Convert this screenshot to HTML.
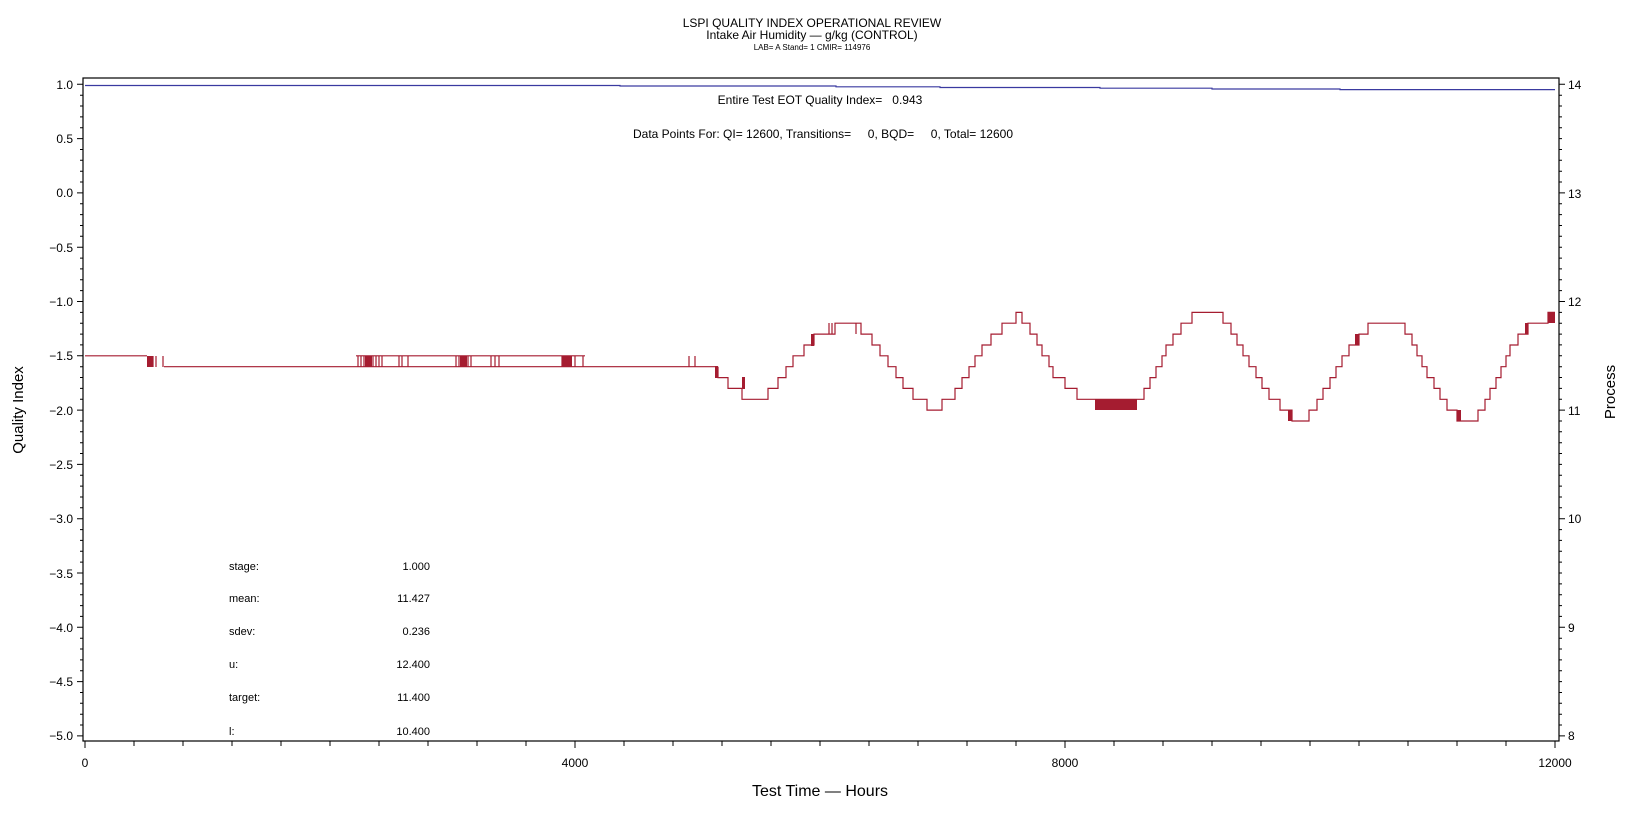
<!DOCTYPE html>
<html><head><meta charset="utf-8"><style>
html,body{margin:0;padding:0;background:#fff;}
svg{display:block;font-family:"Liberation Sans",sans-serif;}
</style></head><body>
<svg width="1632" height="819" viewBox="0 0 1632 819" xmlns="http://www.w3.org/2000/svg">
<rect width="1632" height="819" fill="#fff"/>
<text x="812" y="27" font-size="12" text-anchor="middle">LSPI QUALITY INDEX OPERATIONAL REVIEW</text>
<text x="812" y="39" font-size="12" text-anchor="middle">Intake Air Humidity — g/kg (CONTROL)</text>
<text x="812" y="50" font-size="8" text-anchor="middle">LAB= A Stand= 1 CMIR= 114976</text>
<text x="820" y="104" font-size="12" text-anchor="middle" xml:space="preserve">Entire Test EOT Quality Index=   0.943</text>
<text x="823" y="138" font-size="12" text-anchor="middle" xml:space="preserve">Data Points For: QI= 12600, Transitions=     0, BQD=     0, Total= 12600</text>
<rect x="83" y="78" width="1476" height="663" fill="none" stroke="#000" stroke-width="1.2"/>
<g stroke="#000" stroke-width="1">
<path d="M83 84.3h-6M83 95.2h-3M83 106h-3M83 116.9h-3M83 127.7h-3M83 138.6h-6M83 149.5h-3M83 160.3h-3M83 171.2h-3M83 182h-3M83 192.9h-6M83 203.8h-3M83 214.6h-3M83 225.5h-3M83 236.3h-3M83 247.2h-6M83 258.1h-3M83 268.9h-3M83 279.8h-3M83 290.6h-3M83 301.5h-6M83 312.4h-3M83 323.2h-3M83 334.1h-3M83 344.9h-3M83 355.8h-6M83 366.7h-3M83 377.5h-3M83 388.4h-3M83 399.2h-3M83 410.1h-6M83 421h-3M83 431.8h-3M83 442.7h-3M83 453.5h-3M83 464.4h-6M83 475.3h-3M83 486.1h-3M83 497h-3M83 507.8h-3M83 518.7h-6M83 529.6h-3M83 540.4h-3M83 551.3h-3M83 562.1h-3M83 573h-6M83 583.9h-3M83 594.7h-3M83 605.6h-3M83 616.4h-3M83 627.3h-6M83 638.2h-3M83 649h-3M83 659.9h-3M83 670.7h-3M83 681.6h-6M83 692.5h-3M83 703.3h-3M83 714.2h-3M83 725h-3M83 735.9h-6"/>
<path d="M1559 84.3h6M1559 95.2h3M1559 106h3M1559 116.9h3M1559 127.7h3M1559 138.6h3M1559 149.5h3M1559 160.3h3M1559 171.2h3M1559 182h3M1559 192.9h6M1559 203.8h3M1559 214.6h3M1559 225.5h3M1559 236.3h3M1559 247.2h3M1559 258.1h3M1559 268.9h3M1559 279.8h3M1559 290.6h3M1559 301.5h6M1559 312.4h3M1559 323.2h3M1559 334.1h3M1559 344.9h3M1559 355.8h3M1559 366.7h3M1559 377.5h3M1559 388.4h3M1559 399.2h3M1559 410.1h6M1559 421h3M1559 431.8h3M1559 442.7h3M1559 453.5h3M1559 464.4h3M1559 475.3h3M1559 486.1h3M1559 497h3M1559 507.8h3M1559 518.7h6M1559 529.6h3M1559 540.4h3M1559 551.3h3M1559 562.1h3M1559 573h3M1559 583.9h3M1559 594.7h3M1559 605.6h3M1559 616.4h3M1559 627.3h6M1559 638.2h3M1559 649h3M1559 659.9h3M1559 670.7h3M1559 681.6h3M1559 692.5h3M1559 703.3h3M1559 714.2h3M1559 725h3M1559 735.9h6"/>
<path d="M85 741v7M134 741v5M183 741v5M232 741v5M281 741v5M330 741v5M379 741v5M428 741v5M477 741v5M526 741v5M575 741v7M624 741v5M673 741v5M722 741v5M771 741v5M820 741v5M869 741v5M918 741v5M967 741v5M1016 741v5M1065 741v7M1114 741v5M1163 741v5M1212 741v5M1261 741v5M1310 741v5M1359 741v5M1408 741v5M1457 741v5M1506 741v5M1555 741v7"/>
</g>
<g font-size="12" text-anchor="end">
<text x="73" y="89">1.0</text><text x="73" y="143">0.5</text><text x="73" y="197">0.0</text><text x="73" y="252">−0.5</text><text x="73" y="306">−1.0</text><text x="73" y="360">−1.5</text><text x="73" y="415">−2.0</text><text x="73" y="469">−2.5</text><text x="73" y="523">−3.0</text><text x="73" y="578">−3.5</text><text x="73" y="632">−4.0</text><text x="73" y="686">−4.5</text><text x="73" y="740">−5.0</text>
</g>
<g font-size="12">
<text x="1568" y="89">14</text><text x="1568" y="198">13</text><text x="1568" y="306">12</text><text x="1568" y="415">11</text><text x="1568" y="523">10</text><text x="1568" y="632">9</text><text x="1568" y="740">8</text>
</g>
<g font-size="12" text-anchor="middle">
<text x="85" y="767">0</text><text x="575" y="767">4000</text><text x="1065" y="767">8000</text><text x="1555" y="767">12000</text>
</g>
<text x="820" y="796" font-size="16" text-anchor="middle">Test Time — Hours</text>
<text transform="translate(23,410) rotate(-90)" font-size="15" text-anchor="middle">Quality Index</text>
<text transform="translate(1615,392) rotate(-90)" font-size="15" text-anchor="middle">Process</text>
<g font-size="11">
<text x="229" y="570">stage:</text><text x="229" y="602">mean:</text><text x="229" y="635">sdev:</text><text x="229" y="668">u:</text><text x="229" y="701">target:</text><text x="229" y="735">l:</text>
</g>
<g font-size="11" text-anchor="end">
<text x="430" y="570">1.000</text><text x="430" y="602">11.427</text><text x="430" y="635">0.236</text><text x="430" y="668">12.400</text><text x="430" y="701">11.400</text><text x="430" y="735">10.400</text>
</g>
<path d="M85 85.5H620V86H836V86.8H940V87.5H1100V88.2H1212V89H1340V89.6H1555" fill="none" stroke="#3a3aa0" stroke-width="1.2"/>
<g stroke="#a51c30" stroke-width="1.2" fill="none">
<path d="M85 355.8H147M356 355.8H585M164 366.7H718"/>
<path d="M718 366.7V377.6H728V388.4H742V399.3H768V388.4H778V377.6H786V366.7H793V355.8H804V345H814V334.1H835V323.2H861V334.1H872V345H880V355.8H888V366.7H896V377.6H903V388.4H913V399.3H927V410.1H942V399.3H955V388.4H962V377.6H969V366.7H975V355.8H982V345H991V334.1H1002V323.2H1016V312.4H1022V323.2H1030V334.1H1037V345H1042V355.8H1049V366.7H1053V377.6H1065V388.4H1077V399.3H1144V388.4H1150V377.6H1156V366.7H1162V355.8H1166V345H1173V334.1H1181V323.2H1192V312.4H1223V323.2H1231V334.1H1237V345H1243V355.8H1249V366.7H1256V377.6H1262V388.4H1269V399.3H1280V410.1H1292V421H1309V410.1H1317V399.3H1323V388.4H1330V377.6H1336V366.7H1342V355.8H1349V345H1359V334.1H1368V323.2H1405V334.1H1412V345H1417V355.8H1422V366.7H1427V377.6H1434V388.4H1440V399.3H1447V410.1H1457V421H1478V410.1H1485V399.3H1490V388.4H1496V377.6H1501V366.7H1506V355.8H1510V345H1518V334.1H1528V323.2H1548V312.4H1555"/>
<path d="M150 356v11M153 356v11M156 356v11M163 356v11M358 356v11M361 356v11M364 356v11M367 356v11M370 356v11M373 356v11M376 356v11M379 356v11M382 356v11M399 356v11M402 356v11M408 356v11M456 356v11M459 356v11M462 356v11M465 356v11M468 356v11M471 356v11M491 356v11M495 356v11M499 356v11M562 356v11M565 356v11M568 356v11M571 356v11M575 356v11M583 356v11M689 356v11M695 356v11M829 323v11M832 323v11M856 323v11M1104 399v11"/>
</g>
<g fill="#a51c30">
<rect x="147" y="356" width="6" height="11"/><rect x="365" y="356" width="7" height="11"/><rect x="460" y="356" width="7" height="11"/><rect x="562" y="356" width="10" height="11"/>
<rect x="715" y="366" width="3" height="12"/><rect x="742" y="377" width="3" height="12"/><rect x="811" y="334" width="3" height="12"/>
<rect x="1095" y="399" width="42" height="11"/><rect x="1288" y="410" width="4" height="11"/><rect x="1355" y="334" width="4" height="11"/><rect x="1457" y="410" width="4" height="11"/><rect x="1548" y="312" width="7" height="11"/><rect x="1525" y="323" width="3" height="11"/>
</g>
</svg>
</body></html>
